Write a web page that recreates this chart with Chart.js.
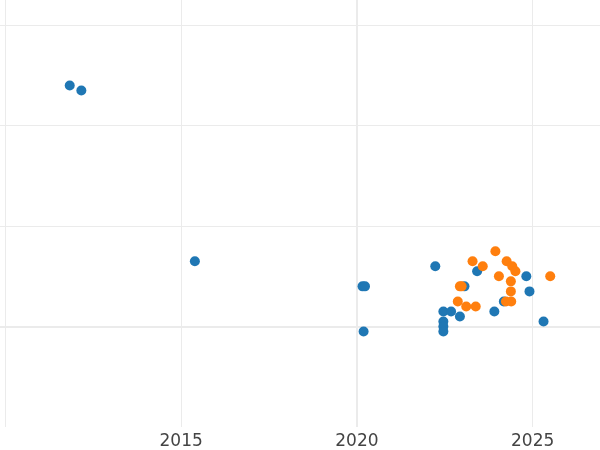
<!DOCTYPE html>
<html>
<head>
<meta charset="utf-8">
<script src="https://cdn.jsdelivr.net/npm/chart.js@4.4.1/dist/chart.umd.min.js"></script>
<style>
  html, body { margin: 0; padding: 0; background: #fff; }
  #chart { display: block; }
</style>
</head>
<body>
<canvas id="chart" width="600" height="450"></canvas>
<script>
// 資料：藍色系列 (年份, 數值)
const blueX = [2011.83, 2012.16, 2015.39, 2020.16, 2020.23, 2020.19, 2022.23, 2023.06, 2023.42, 2024.82,
               2024.91, 2024.18, 2023.91, 2025.31, 2022.46, 2022.68, 2022.93, 2022.46, 2022.46, 2022.46];
const blueY = [2.40, 2.35, 0.65, 0.40, 0.40, -0.05, 0.60, 0.40, 0.55, 0.50,
               0.35, 0.25, 0.15, 0.05, 0.15, 0.15, 0.10, 0.05, 0.00, -0.05];

// 資料：橘色系列
const orangeX = [2023.29, 2023.58, 2023.94, 2024.04, 2022.93, 2022.98, 2022.87, 2023.11, 2023.38,
                 2024.26, 2024.42, 2024.51, 2024.38, 2024.38, 2024.24, 2024.39, 2025.50];
const orangeY = [0.65, 0.60, 0.75, 0.50, 0.40, 0.40, 0.25, 0.20, 0.20,
                 0.65, 0.60, 0.55, 0.45, 0.35, 0.25, 0.25, 0.50];

// 刻度
const xTicks = [2010, 2015, 2020, 2025];
const yTicks = [-1, 0, 1, 2, 3];

const toPoints = (xs, ys) => xs.map((x, i) => ({ x: x, y: ys[i] }));

const gridColor = '#ebebeb';

new Chart(document.getElementById('chart'), {
    type: 'scatter',
    data: {
        datasets: [
            {
                label: 'A',
                data: toPoints(blueX, blueY),
                backgroundColor: '#1f77b4',
                borderWidth: 0,
                pointRadius: 5,
                order: 2
            },
            {
                label: 'B',
                data: toPoints(orangeX, orangeY),
                backgroundColor: '#ff7f0e',
                borderWidth: 0,
                pointRadius: 5,
                order: 1
            }
        ]
    },
    options: {
        responsive: false,
        animation: false,
        layout: { padding: 0, autoPadding: false },
        plugins: {
            legend: { display: false },
            tooltip: { enabled: false }
        },
        scales: {
            x: {
                type: 'linear',
                min: 2009.846,
                max: 2026.916,
                afterBuildTicks: (scale) => { scale.ticks = xTicks.map(v => ({ value: v })); },
                afterFit: (scale) => { scale.height = 23; },
                border: { display: false },
                grid: {
                    color: gridColor,
                    drawTicks: false,
                    lineWidth: (ctx) => ctx.tick && ctx.tick.value === 2020 ? 2 : 1
                },
                ticks: {
                    autoSkip: false,
                    maxRotation: 0,
                    padding: 4,
                    color: '#444',
                    font: { family: 'DejaVu Sans', size: 17 },
                    callback: (v) => v === 2010 ? '' : String(v)
                }
            },
            y: {
                type: 'linear',
                min: -1,
                max: 3.251,
                afterBuildTicks: (scale) => { scale.ticks = yTicks.map(v => ({ value: v })); },
                border: { display: false },
                grid: {
                    drawTicks: false,
                    color: (ctx) => ctx.tick && ctx.tick.value === -1 ? 'rgba(0,0,0,0)' : gridColor,
                    lineWidth: (ctx) => ctx.tick && ctx.tick.value === 0 ? 2 : 1
                },
                ticks: { display: false }
            }
        }
    }
});
</script>
</body>
</html>
